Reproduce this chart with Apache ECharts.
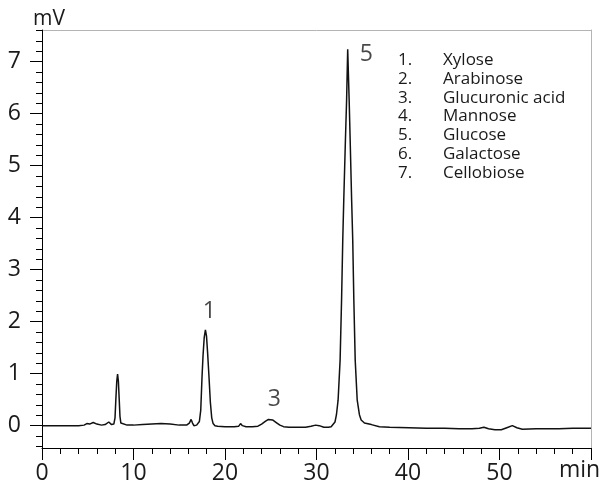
<!DOCTYPE html>
<html>
<head>
<meta charset="utf-8">
<script src="https://cdn.jsdelivr.net/npm/echarts@6/dist/echarts.min.js"></script>
<style>
  html, body { margin: 0; padding: 0; background: #fff; }
  #main { width: 601px; height: 487px; }
</style>
</head>
<body>
<div id="main"></div>
<script>
// chromatogram trace (min, mV)
var retentionTime = [
  0, 2, 4, 4.6, 4.9, 5.2, 5.6, 6.0, 6.5, 6.9,
  7.3, 7.6, 7.85, 7.98, 8.07, 8.17, 8.26, 8.35, 8.44, 8.52,
  8.62, 8.8, 9.3, 10, 11, 12, 13, 14, 15, 15.8,
  16.1, 16.3, 16.45, 16.6, 16.9, 17.1, 17.2, 17.35, 17.49, 17.6,
  17.73, 17.86, 17.98, 18.1, 18.25, 18.4, 18.55, 18.7, 18.9, 19.2,
  20, 21, 21.5, 21.7, 21.8, 21.9, 22.3, 23, 23.6, 24,
  24.4, 24.75, 24.95, 25.2, 25.6, 26, 26.4, 27, 28, 28.8,
  29.4, 29.9, 30.3, 30.8, 31.3, 31.6, 31.8, 32.02, 32.18, 32.36,
  32.58, 32.74, 32.87, 32.98, 33.16, 33.29, 33.41, 33.57, 33.68, 33.84,
  33.96, 34.08, 34.23, 34.45, 34.69, 34.88, 35.24, 36.0, 36.87, 38,
  40.1, 42, 44, 45.6, 47, 47.8, 48.3, 48.8, 49.5, 50.2,
  50.8, 51.4, 51.9, 52.5, 54, 56.5, 58, 60
];
var signal = [
  0, 0, 0, 0.01, 0.04, 0.03, 0.06, 0.03, 0.01, 0.02,
  0.07, 0.02, 0.03, 0.15, 0.5, 0.85, 0.99, 0.85, 0.5, 0.18,
  0.05, 0.02, 0.01, 0.01, 0.02, 0.03, 0.04, 0.03, 0.01, 0.01,
  0.05, 0.12, 0.05, 0.0, 0.01, 0.03, 0.08, 0.3, 0.94, 1.35,
  1.7, 1.84, 1.72, 1.4, 0.94, 0.45, 0.15, 0.04, 0.0, -0.01,
  -0.02, -0.02, -0.01, 0.04, 0.06, 0.0, -0.02, -0.02, -0.01, 0.03,
  0.08, 0.12, 0.13, 0.11, 0.06, 0.01, -0.02, -0.03, -0.03, -0.03,
  -0.01, 0.01, 0.0, -0.03, -0.03, -0.02, -0.01, 0.07, 0.21, 0.49,
  1.26, 2.42, 3.57, 4.34, 5.49, 6.26, 7.24, 6.26, 5.49, 4.34,
  3.57, 2.42, 1.26, 0.49, 0.21, 0.11, 0.05, 0.02, -0.02, -0.03,
  -0.04, -0.05, -0.05, -0.06, -0.06, -0.05, -0.03, -0.06, -0.08, -0.08,
  -0.04, 0.0, -0.04, -0.07, -0.06, -0.06, -0.05, -0.05
];

// peak numbers written over the peaks
var peakLabel = ['1', '3', '5'];
var peakLabelTime = [18.3, 25.4, 35.45];
var peakLabelSignal = [2.2, 0.51, 7.14];

// compound list in the upper right
var compoundNo = ['1.', '2.', '3.', '4.', '5.', '6.', '7.'];
var compoundName = ['Xylose', 'Arabinose', 'Glucuronic acid', 'Mannose', 'Glucose', 'Galactose', 'Cellobiose'];

var yMajorTicks = [0, 1, 2, 3, 4, 5, 6, 7];
var xMajorTicks = [0, 10, 20, 30, 40, 50];

var FONT = '"Open Sans", "Noto Sans", sans-serif';
var INK = '#1a1a1a';
var FRAME = '#b4b4b4';

var yMinorTicks = [];
for (var k = -2; k <= 38; k++) yMinorTicks.push(Math.round(k * 0.2 * 10) / 10);

var trace = [];
for (var i = 0; i < retentionTime.length; i++) {
  trace.push([retentionTime[i], signal[i]]);
}
var peakData = [];
for (var j = 0; j < peakLabel.length; j++) {
  peakData.push({ value: [peakLabelTime[j], peakLabelSignal[j]], name: peakLabel[j] });
}

var legendText = [];
for (var r = 0; r < compoundName.length; r++) {
  var ty = 64 + r * 18.7;
  legendText.push({
    type: 'text', left: 398, top: ty - 12,
    style: { text: compoundNo[r], font: '17px ' + FONT, fill: INK }
  });
  legendText.push({
    type: 'text', left: 443, top: ty - 12,
    style: { text: compoundName[r], font: '17px ' + FONT, fill: INK }
  });
}

// gray frame on the top and right sides
var frameAxis = {
  type: 'value',
  axisLine: { show: true, onZero: false, lineStyle: { color: FRAME, width: 1 } },
  axisTick: { show: false }, axisLabel: { show: false }, splitLine: { show: false }
};

var chart = echarts.init(document.getElementById('main'));
chart.setOption({
  animation: false,
  backgroundColor: '#fff',
  grid: { left: 42, right: 10, top: 30, bottom: 39 },
  xAxis: [{
    type: 'value', min: 0, max: 60, interval: 10, position: 'bottom',
    axisLine: { onZero: false, lineStyle: { color: '#000', width: 1 } },
    axisTick: { show: true, inside: false, length: 12, lineStyle: { color: '#000' } },
    minorTick: { show: true, splitNumber: 5, length: 6, lineStyle: { color: '#000' } },
    splitLine: { show: false },
    axisLabel: {
      customValues: xMajorTicks,
      margin: 14, fontSize: 23, fontFamily: FONT, color: INK
    },
    z: 5
  }, Object.assign({}, frameAxis, { min: 0, max: 60, position: 'top' })],
  yAxis: [{
    type: 'value', min: -0.43, max: 7.61, position: 'left',
    axisLine: { show: true, onZero: false, lineStyle: { color: '#000', width: 1 } },
    axisTick: { show: true, customValues: yMajorTicks, length: 12, lineStyle: { color: '#000' } },
    splitLine: { show: false },
    axisLabel: {
      customValues: yMajorTicks,
      margin: 21, fontSize: 23, fontFamily: FONT, color: INK
    },
    z: 5
  }, {
    type: 'value', min: -0.43, max: 7.61, position: 'left',
    axisLine: { show: false, onZero: false },
    axisTick: { show: true, customValues: yMinorTicks, length: 6, lineStyle: { color: '#000' } },
    splitLine: { show: false },
    axisLabel: { show: false }
  }, Object.assign({}, frameAxis, { min: -0.43, max: 7.61, position: 'right' })],
  series: [{
    type: 'line',
    data: trace,
    showSymbol: false,
    symbol: 'none',
    lineStyle: { color: '#111', width: 1.5 },
    z: 3
  }, {
    type: 'scatter',
    data: peakData,
    symbolSize: 0,
    label: {
      show: true, position: 'inside', formatter: '{b}',
      fontSize: 23, fontFamily: FONT, color: INK
    }
  }],
  graphic: [{
    type: 'text', left: 33, top: 9,
    style: { text: 'mV', font: '21px ' + FONT, fill: INK }
  }, {
    type: 'text', left: 559, top: 459,
    style: { text: 'min', font: '23px ' + FONT, fill: INK }
  }].concat(legendText)
});
</script>
</body>
</html>
